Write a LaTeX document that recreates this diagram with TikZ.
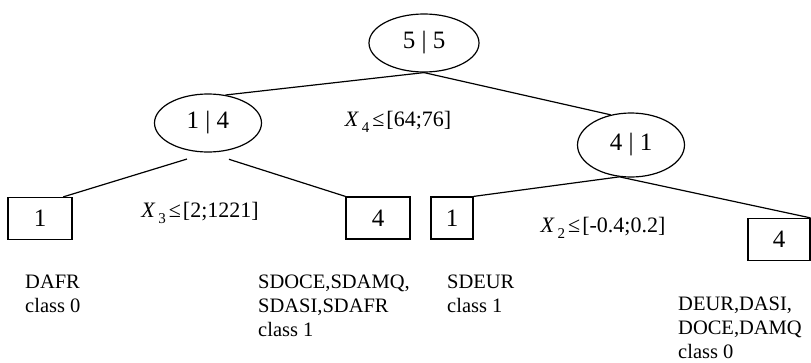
\documentclass[tikz,border=0pt]{standalone}
\usepackage{fontspec}
\setmainfont{Liberation Serif}
\usetikzlibrary{shapes}

\tikzset{
  split/.style={draw, ellipse, line width=1.2pt, inner sep=0pt, minimum width=107pt, minimum height=58pt, font=\fontsize{25}{30}\selectfont},
  leaf/.style={draw, rectangle, line width=1.2pt, inner sep=0pt, minimum height=42pt, font=\fontsize{25}{30}\selectfont},
  branch/.style={line width=1.2pt},
  cond/.style={font=\fontsize{22}{26}\selectfont, inner sep=0pt},
  members/.style={font=\fontsize{20.5}{24}\selectfont, align=left, anchor=north west, inner sep=0pt}
}
\newcommand{\condlabel}[2]{\textit{X}\hspace{3pt}\raisebox{-6pt}{\fontsize{15}{15}\selectfont #1}\hspace{3pt}≤\hspace{2pt}#2}

\begin{document}
\begin{tikzpicture}[x=1pt,y=-1pt]
    \useasboundingbox (0,0) rectangle (811,362);
    %Splits
    \node[split, minimum width=110pt] (root) at (424,43) {5 | 5};
    \node[split] (left) at (208,123) {1 | 4};
    \node[split, minimum height=64pt] (right) at (631,145) {4 | 1};
    %Leaves
    \node[leaf, minimum width=64pt] (leafA) at (40,218.5) {1};
    \node[leaf, minimum width=64pt] (leafB) at (378,218) {4};
    \node[leaf, minimum width=42pt] (leafC) at (452,218) {1};
    \node[leaf, minimum width=62pt] (leafD) at (779,239.5) {4};
    %Conditions
    \node[cond] (condRoot) at (398,122) {\condlabel{4}{[64;76]}};
    \node[cond] (condLeft) at (200,213) {\condlabel{3}{[2;1221]}};
    \node[cond] (condRight) at (603,228) {\condlabel{2}{[-0.4;0.2]}};
    %Members
    \node[members] (membA) at (25,275) {DAFR\\class 0};
    \node[members] (membB) at (258,275) {SDOCE,SDAMQ,\\SDASI,SDAFR\\class 1};
    \node[members] (membC) at (447,275) {SDEUR\\class 1};
    \node[members] (membD) at (678,297) {DEUR,DASI,\\DOCE,DAMQ\\class 0};
    %Branches
    \draw[branch] (root.south) -- (left.58);
    \draw[branch] (root.south) -- (right.124);
    \draw[branch, shorten <=22pt] (left.south) -- (leafA.43);
    \draw[branch, shorten <=22pt] (left.south) -- (leafB.north west);
    \draw[branch] (right.250) -- (leafC.north east);
    \draw[branch] (right.250) -- (leafD.north east);
\end{tikzpicture}
\end{document}
